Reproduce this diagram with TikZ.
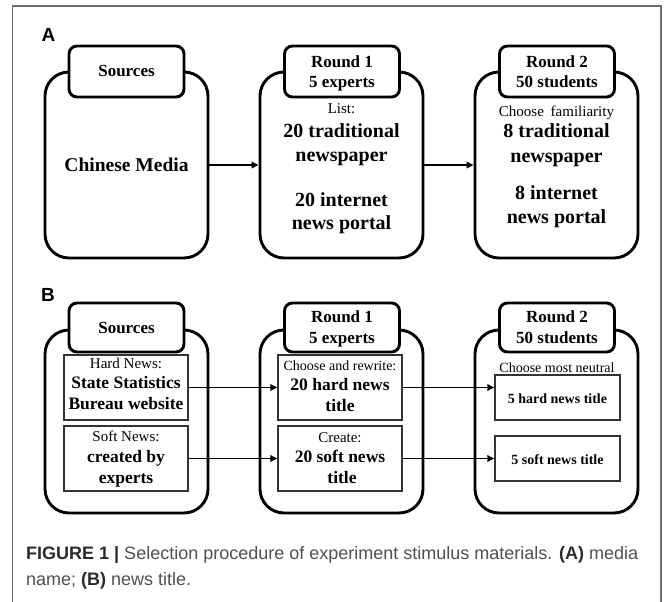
\documentclass[tikz,border=0pt]{standalone}
\usepackage{fontspec}
\setmainfont{Liberation Serif}
\newfontfamily\capfont{Liberation Sans}
\usetikzlibrary{arrows.meta}
\newcommand{\fsz}[1]{\fontsize{#1}{#1}\selectfont}
\definecolor{framec}{HTML}{6E6E6E}
\definecolor{capdark}{HTML}{2A2A2A}
\definecolor{capgray}{HTML}{505050}
\begin{document}
\begin{tikzpicture}[x=1pt,y=-1pt,
  card/.style={draw,line width=2.9pt,rounded corners=24pt,minimum width=163pt,minimum height=#1,fill=white,inner sep=0pt},
  tabbox/.style={draw,line width=2.9pt,rounded corners=8pt,minimum width=115pt,minimum height=#1,fill=white,inner sep=0pt},
  inbox/.style={draw=black!80,line width=1.5pt,minimum width=#1,inner sep=0pt},
  arr/.style={-{Triangle[length=7pt,width=6.5pt]},line width=1.8pt},
  txt/.style={anchor=mid,inner sep=0pt,yshift=-3.5pt},
  hd/.style={txt,font=\fsz{17}\bfseries},
  big/.style={txt,font=\fsz{20}\bfseries},
  mid/.style={txt,font=\fsz{17.5}\bfseries},
  sm/.style={txt,font=\fsz{15}},
  smn/.style={txt,font=\fsz{14}},
  smb/.style={txt,font=\fsz{14}\bfseries},
  lab/.style={txt,font=\capfont\fsz{19}\bfseries}
]
\useasboundingbox (0,0) rectangle (667,602);
% frame
\draw[framec,line width=1.2pt] (12.5,602) -- (12.5,6) -- (661,6) -- (661,602);

% ---------- Part A ----------
\node[lab] (labA) at (48.5,36) {A};
\node[card=186pt] (a1) at (126.5,165) {};
\node[card=186pt] (a2) at (341.5,165) {};
\node[card=186pt] (a3) at (556.5,165) {};
\node[tabbox=51pt] (ta1) at (126.5,71.5) {};
\node[tabbox=51pt] (ta2) at (342,71.5) {};
\node[tabbox=51pt] (ta3) at (557,71.5) {};
\draw[arr] (a1.east) -- (a2.west);
\draw[arr] (a2.east) -- (a3.west);

\node[hd] (sA) at (126.5,71) {Sources};
\node[hd] (r1A) at (342,62) {Round 1};
\node[hd] (e1A) at (342,82) {5 experts};
\node[hd] (r2A) at (557,62) {Round 2};
\node[hd] (e2A) at (557,82) {50 students};

\node[txt,font=\fsz{19.5}\bfseries] (cm) at (126.5,166) {Chinese Media};

\node[sm] (list) at (341.5,108) {List:};
\node[big] (t20a) at (341.5,132) {20 traditional};
\node[big] (t20b) at (341.5,156) {newspaper};
\node[big] (i20a) at (341.5,201) {20 internet};
\node[big] (i20b) at (341.5,224) {news portal};

\node[sm] (fam) at (556.5,111) {Choose\hspace{3pt} familiarity};
\node[big] (t8a) at (556.5,132) {8 traditional};
\node[big] (t8b) at (556.5,157) {newspaper};
\node[big] (i8a) at (556.5,194) {8 internet};
\node[big] (i8b) at (556.5,218) {news portal};

% ---------- Part B ----------
\node[lab] (labB) at (48,295.5) {B};
\node[card=183pt] (b1) at (126.5,421.5) {};
\node[card=183pt] (b2) at (341.5,421.5) {};
\node[card=183pt] (b3) at (556.5,421.5) {};
\node[tabbox=49pt] (tb1) at (126.5,327.5) {};
\node[tabbox=49pt] (tb2) at (342,327.5) {};
\node[tabbox=49pt] (tb3) at (557,327.5) {};

\node[inbox=124pt,minimum height=65pt] (h1) at (126,387.5) {};
\node[inbox=124pt,minimum height=65pt] (s1) at (126,458.5) {};
\node[inbox=124pt,minimum height=65pt] (h2) at (340,387.5) {};
\node[inbox=124pt,minimum height=65pt] (s2) at (340,458.5) {};
\node[inbox=125pt,minimum height=45pt] (h3) at (557.5,397.5) {};
\node[inbox=125pt,minimum height=45pt] (s3) at (557.5,458.5) {};

\draw[arr] (h1.east) -- (h2.west);
\draw[arr] (s1.east) -- (s2.west);
\draw[arr] (h2.east) -- (h2.east -| h3.west);
\draw[arr] (s2.east) -- (s3.west);

\node[hd] (sB) at (126.5,328) {Sources};
\node[hd] (r1B) at (342,317) {Round 1};
\node[hd] (e1B) at (342,338) {5 experts};
\node[hd] (r2B) at (557,317) {Round 2};
\node[hd] (e2B) at (557,338) {50 students};

\node[sm] (hn) at (126,363) {Hard News:};
\node[mid] (ss) at (126,383) {State Statistics};
\node[mid] (bw) at (126,404) {Bureau website};
\node[sm] (sn) at (126,436) {Soft News:};
\node[mid] (cb) at (126,457) {created by};
\node[mid] (ex) at (126,478) {experts};

\node[smn] (car) at (340,365) {Choose and rewrite:};
\node[mid] (hn20) at (340,385) {20 hard news};
\node[mid] (tt1) at (340,406) {title};
\node[sm] (cr) at (340,437) {Create:};
\node[mid] (sn20) at (340,457) {20 soft news};
\node[mid] (tt2) at (342,478) {title};

\node[smn] (cmn) at (557,367) {Choose most neutral};
\node[smb] (h5) at (557.5,398) {5 hard news title};
\node[smb] (s5) at (557.5,459) {5 soft news title};

% ---------- Caption ----------
\node[anchor=base west,inner sep=0pt,font=\capfont\fsz{18}] (cap1) at (26,559)
  {{\color{capdark}\bfseries FIGURE 1 |} {\color{capgray}Selection procedure of experiment stimulus materials.} {\color{capdark}\bfseries (A)} {\color{capgray}media}};
\node[anchor=base west,inner sep=0pt,font=\capfont\fsz{18}] (cap2) at (26,585)
  {{\color{capgray}name;} {\color{capdark}\bfseries (B)} {\color{capgray}news title.}};
\end{tikzpicture}
\end{document}
